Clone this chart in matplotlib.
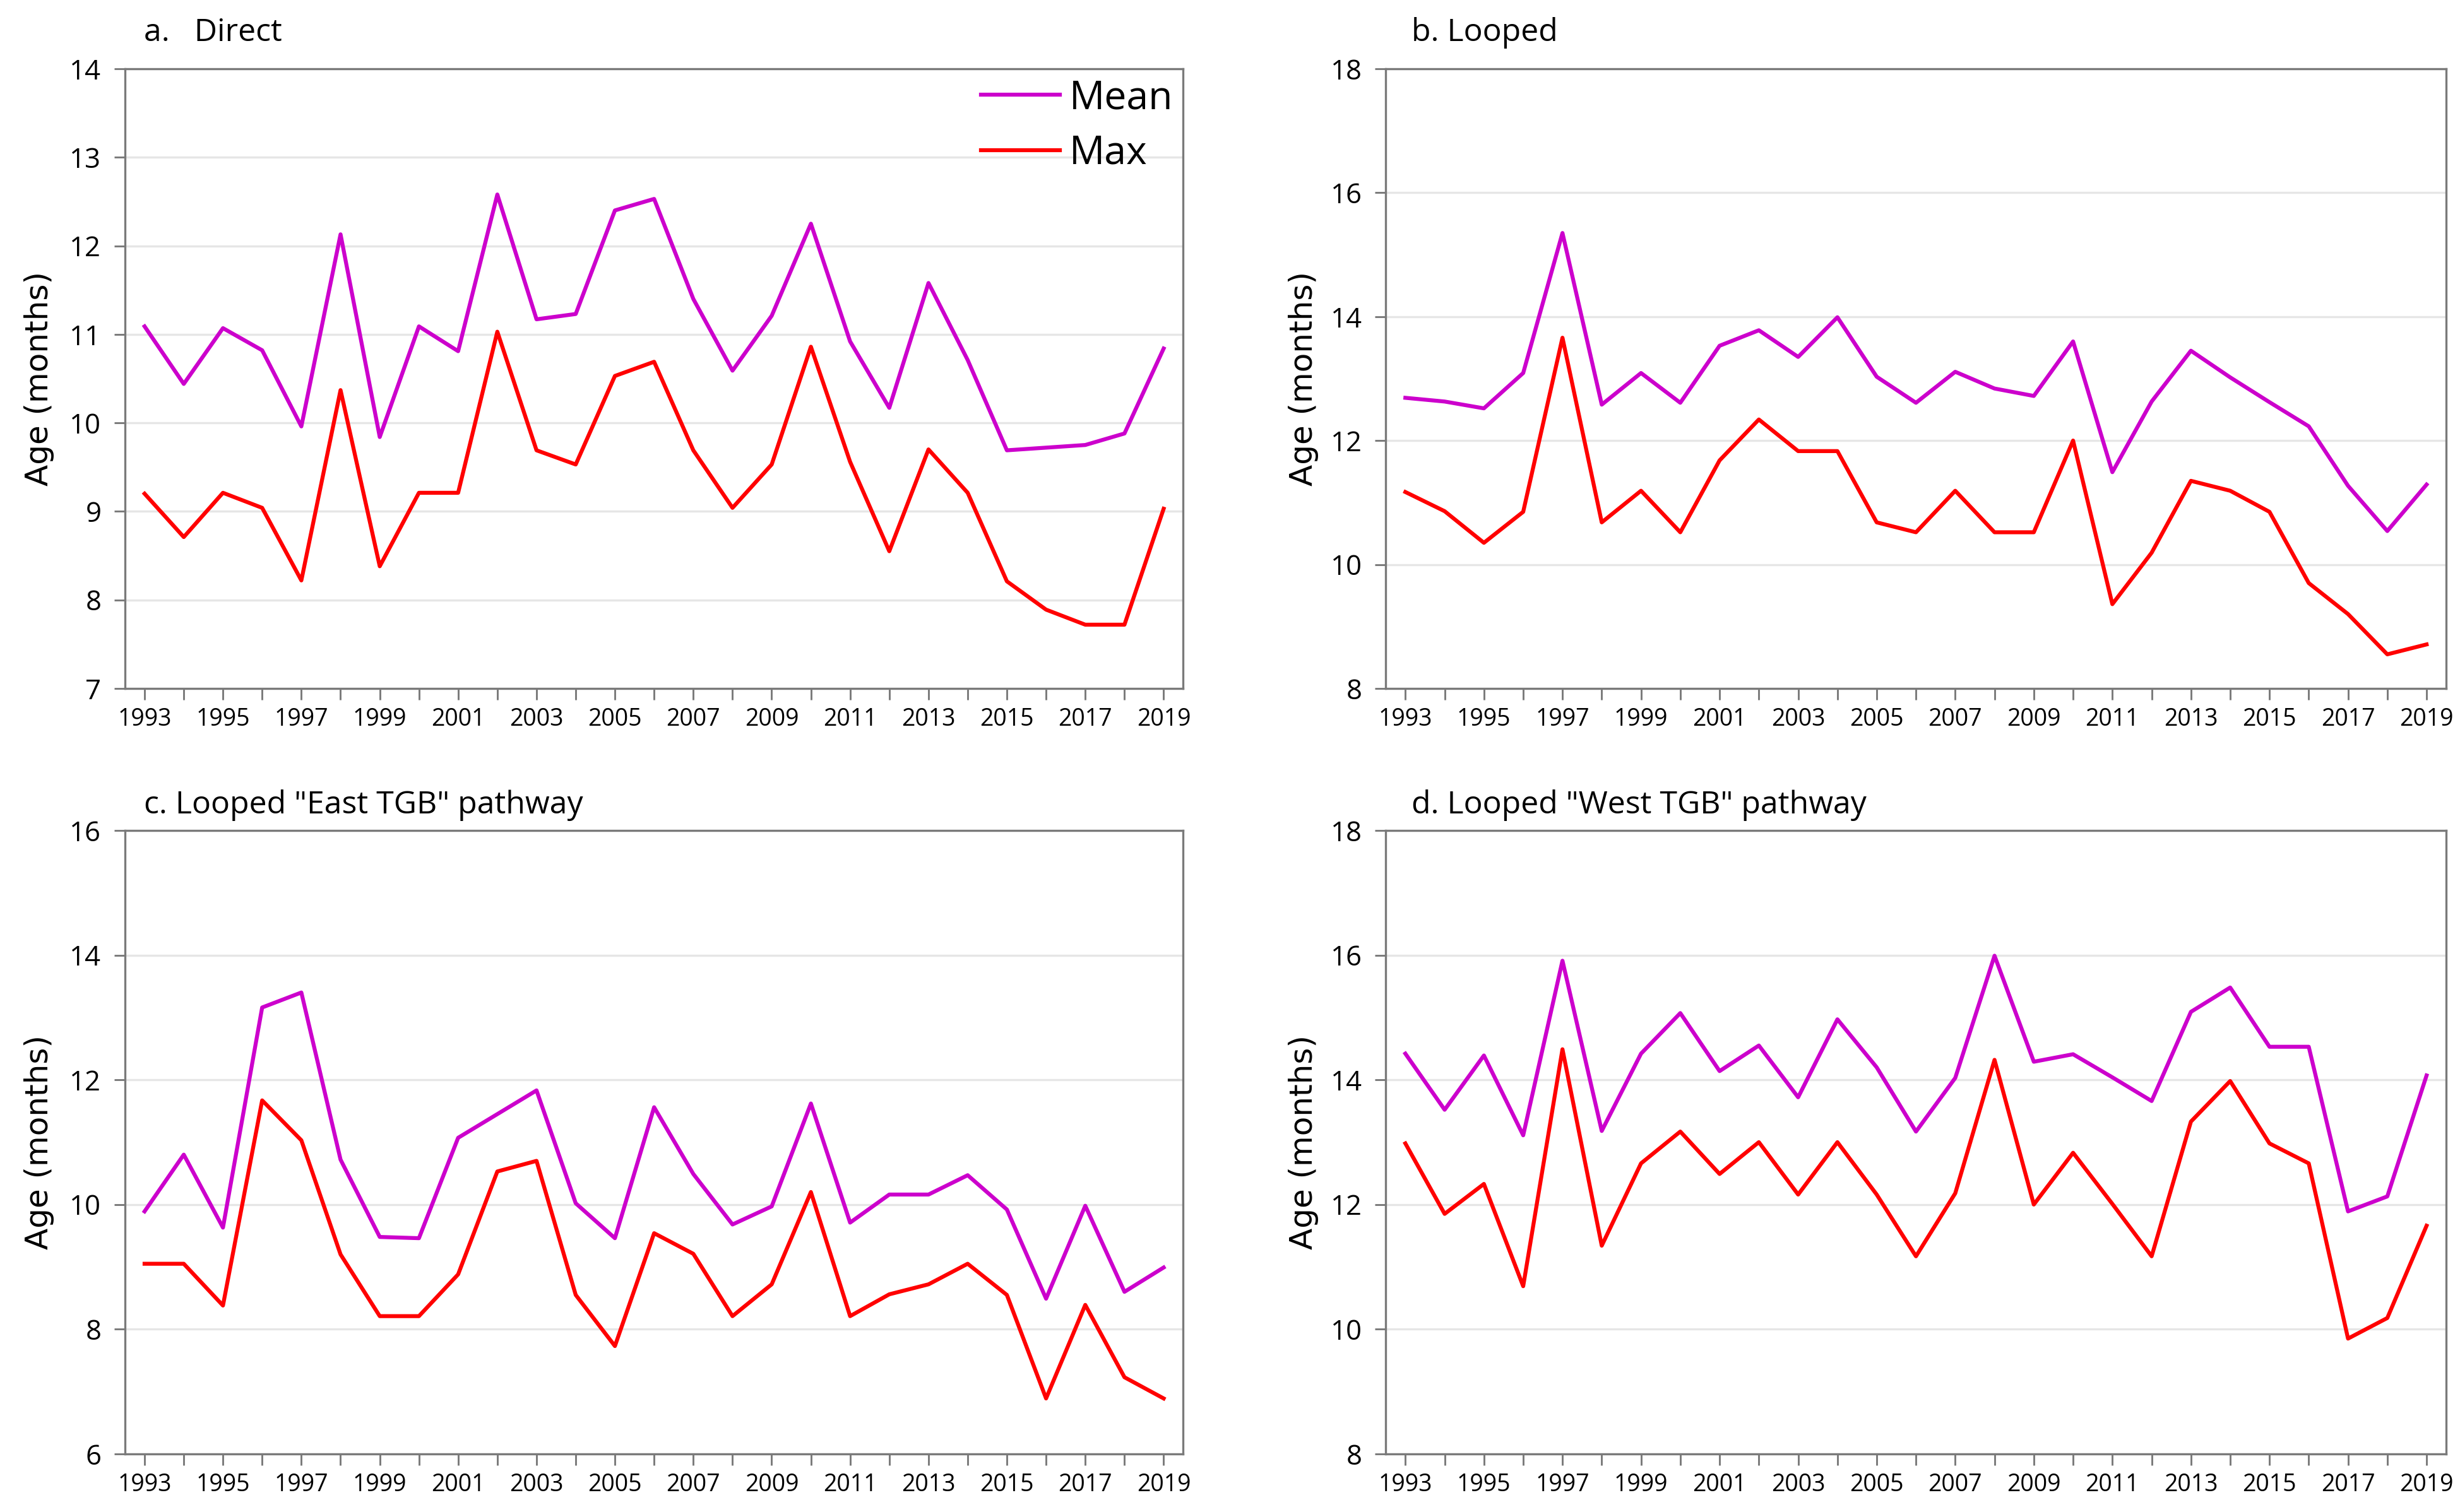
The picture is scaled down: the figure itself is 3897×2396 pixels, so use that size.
import matplotlib
matplotlib.use("Agg")
import matplotlib.pyplot as plt
import numpy as np

years = list(range(1993, 2020))

# a. Direct
direct_mean = [11.09, 10.44, 11.07, 10.82, 9.96, 12.13, 9.84, 11.09, 10.81, 12.58,
               11.17, 11.23, 12.40, 12.53, 11.40, 10.59, 11.21, 12.25, 10.92, 10.17,
               11.58, 10.71, 9.69, 9.72, 9.75, 9.88, 10.84]
direct_max = [9.20, 8.71, 9.21, 9.04, 8.22, 10.37, 8.38, 9.21, 9.21, 11.03,
              9.69, 9.53, 10.53, 10.69, 9.69, 9.04, 9.53, 10.86, 9.56, 8.55,
              9.70, 9.21, 8.21, 7.89, 7.72, 7.72, 9.03]

# b. Looped
looped_mean = [12.69, 12.63, 12.52, 13.09, 15.35, 12.58, 13.09, 12.61, 13.53, 13.78,
               13.35, 13.99, 13.03, 12.61, 13.11, 12.84, 12.72, 13.60, 11.49, 12.63,
               13.45, 13.02, 12.62, 12.23, 11.27, 10.54, 11.29]
looped_max = [11.17, 10.86, 10.35, 10.85, 13.66, 10.68, 11.19, 10.52, 11.68, 12.34,
              11.83, 11.83, 10.68, 10.52, 11.19, 10.52, 10.52, 12.00, 9.36, 10.19,
              11.35, 11.19, 10.85, 9.70, 9.20, 8.55, 8.71]

# c. Looped "East TGB"
east_mean = [9.89, 10.80, 9.63, 13.16, 13.40, 10.72, 9.48, 9.46, 11.07, 11.45,
             11.83, 10.02, 9.46, 11.56, 10.49, 9.68, 9.97, 11.62, 9.71, 10.16,
             10.16, 10.47, 9.92, 8.49, 9.98, 8.60, 8.99]
east_max = [9.05, 9.05, 8.38, 11.67, 11.03, 9.20, 8.21, 8.21, 8.88, 10.53,
            10.70, 8.55, 7.73, 9.54, 9.21, 8.21, 8.72, 10.20, 8.21, 8.56,
            8.72, 9.05, 8.55, 6.89, 8.39, 7.23, 6.89]

# d. Looped "West TGB"
west_mean = [14.42, 13.52, 14.39, 13.11, 15.91, 13.18, 14.42, 15.07, 14.14, 14.55,
             13.72, 14.97, 14.20, 13.17, 14.03, 15.99, 14.29, 14.41, 14.04, 13.66,
             15.09, 15.48, 14.53, 14.53, 11.89, 12.13, 14.07]
west_max = [12.98, 11.85, 12.33, 10.69, 14.49, 11.34, 12.66, 13.17, 12.49, 13.00,
            12.16, 13.00, 12.16, 11.17, 12.18, 14.32, 12.00, 12.83, 12.01, 11.17,
            13.33, 13.98, 12.98, 12.66, 9.85, 10.18, 11.66]

titles = ['a.   Direct', 'b. Looped', 'c. Looped "East TGB" pathway', 'd. Looped "West TGB" pathway']
means = [direct_mean, looped_mean, east_mean, west_mean]
maxes = [direct_max, looped_max, east_max, west_max]
ylims = [(7, 14, 1), (8, 18, 2), (6, 16, 2), (8, 18, 2)]

plt.rcParams['font.family'] = ['Open Sans', 'DejaVu Sans']

MEAN_C = '#cc00cc'
MAX_C = '#ff0000'
SPINE_C = '#7a7a7a'

fig = plt.figure(figsize=(3897 / 300, 2396 / 300), dpi=300)

positions = [
    [0.0508, 0.5447, 0.4302, 0.4098],
    [0.5633, 0.5447, 0.4311, 0.4098],
    [0.0508, 0.0384, 0.4302, 0.4124],
    [0.5633, 0.0384, 0.4311, 0.4124],
]
title_y = [1.058, 1.058, 1.040, 1.040]

for i in range(4):
    ax = fig.add_axes(positions[i])
    ax.plot(years, means[i], color=MEAN_C, lw=1.5, label='Mean', zorder=3)
    ax.plot(years, maxes[i], color=MAX_C, lw=1.5, label='Max', zorder=3)

    lo, hi, step = ylims[i]
    ax.set_ylim(lo, hi)
    ax.set_yticks(np.arange(lo, hi + 0.01, step))
    ax.set_xlim(1992.5, 2019.5)
    ax.set_xticks(years)
    ax.set_xticklabels([str(y) if y % 2 == 1 else '' for y in years])

    ax.grid(axis='y', color='#e6e6e6', lw=0.8, zorder=0)
    for s in ax.spines.values():
        s.set_color(SPINE_C)
        s.set_linewidth(0.8)
    ax.tick_params(axis='x', direction='out', length=4.2, width=0.7, color=SPINE_C,
                   labelsize=9, pad=3)
    ax.tick_params(axis='y', direction='out', length=4.0, width=0.7, color=SPINE_C,
                   labelsize=10.5, pad=5)

    ax.set_ylabel('Age (months)', fontsize=12, family='DejaVu Sans')
    ax.yaxis.set_label_coords(-0.067 if i % 2 == 0 else -0.063, 0.5)

    ax.text(0.018 if i % 2 == 0 else 0.024, title_y[i], titles[i],
            transform=ax.transAxes, fontsize=12, ha='left', va='center')

    if i == 0:
        ax.legend(loc='upper right', frameon=False, fontsize=15,
                  handlelength=2.0, handletextpad=0.25, labelspacing=0.4,
                  borderaxespad=0.05, borderpad=0.2)

fig.savefig('out.png', dpi=300)
